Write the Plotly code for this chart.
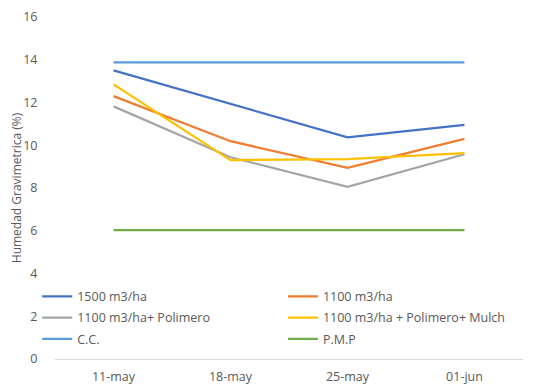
import plotly.graph_objects as go

fechas = ["11-may", "18-may", "25-may", "01-jun"]
s1500 = [13.5, 11.95, 10.37, 10.95]
s1100 = [12.3, 10.19, 8.94, 10.3]
s1100_pol = [11.82, 9.44, 8.05, 9.58]
s1100_pol_mulch = [12.85, 9.3, 9.35, 9.63]
cc = [13.88, 13.88, 13.88, 13.88]
pmp = [6.03, 6.03, 6.03, 6.03]

series = [
    ("1500 m3/ha", s1500, "#4472C4", "legend"),
    ("1100 m3/ha", s1100, "#ED7D31", "legend2"),
    ("1100 m3/ha+ Polimero", s1100_pol, "#A5A5A5", "legend"),
    ("1100 m3/ha + Polimero+ Mulch", s1100_pol_mulch, "#FFC000", "legend2"),
    ("C.C.", cc, "#5B9BD5", "legend"),
    ("P.M.P", pmp, "#70AD47", "legend2"),
]

fig = go.Figure()
for name, vals, col, lg in series:
    fig.add_trace(go.Scatter(x=fechas, y=vals, name=name, mode="lines",
                             legend=lg, legendgroup=name,
                             line=dict(color=col, width=2.25)))

font = "Open Sans"
leg_common = dict(xanchor="left", yanchor="top", orientation="v",
                  traceorder="grouped", tracegroupgap=2,
                  bgcolor="rgba(0,0,0,0)", font=dict(size=12.5, color="#595959"),
                  itemwidth=30)
fig.update_layout(
    width=548, height=385,
    margin=dict(l=47, r=33, t=9, b=34, autoexpand=False),
    paper_bgcolor="white", plot_bgcolor="white",
    font=dict(family=font, size=12, color="#595959"),
    showlegend=True,
    legend=dict(x=-0.038, y=0.226, **leg_common),
    legend2=dict(x=0.487, y=0.226, **leg_common),
    xaxis=dict(showgrid=False, showline=True, linecolor="#D9D9D9", linewidth=1,
               range=[-0.5, 3.5], automargin=False,
               ticks="outside", ticklen=6, tickcolor="rgba(0,0,0,0)",
               tickfont=dict(size=12.5, color="#595959")),
    yaxis=dict(range=[0, 16], dtick=2, showgrid=False, zeroline=False,
               automargin=False,
               ticks="outside", ticklen=14, tickcolor="rgba(0,0,0,0)",
               tickfont=dict(size=12.5, color="#595959"),
               title=dict(text="Humedad Gravimetrica (%)", standoff=2,
                          font=dict(size=12, color="#595959"))),
)

fig.write_html("out.html")
